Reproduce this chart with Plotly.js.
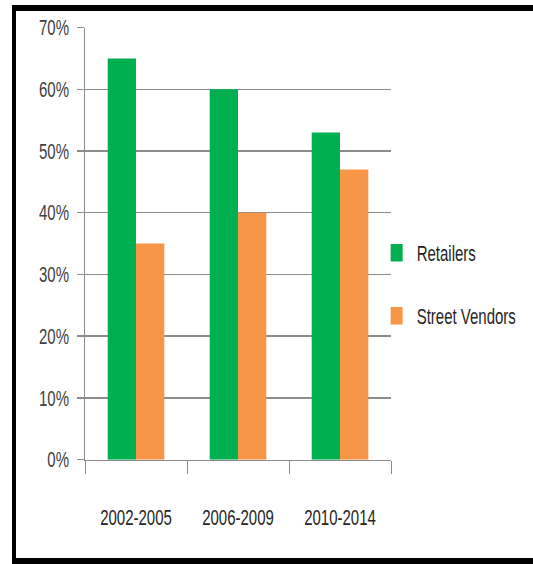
<!DOCTYPE html>
<html>
<head>
<meta charset="utf-8">
<script src="https://cdn.plot.ly/plotly-3.0.1.min.js"></script>
<style>
html,body{margin:0;padding:0;width:533px;height:564px;overflow:hidden;background:#fff;}
#frame{position:absolute;left:12px;top:5px;width:540px;height:547px;border-top:6px solid #000;border-left:4px solid #000;border-bottom:6px solid #000;box-sizing:content-box;pointer-events:none;}
#chart{position:absolute;left:0;top:0;width:533px;height:389px;transform-origin:0 0;transform:scaleY(1.45);}
</style>
</head>
<body>
<div id="chart"></div>
<div id="frame"></div>
<script>
const categories = ["2002-2005", "2006-2009", "2010-2014"];
const retailers = [65, 60, 53];
const streetVendors = [35, 40, 47];
const seriesNames = ["Retailers", "Street Vendors"];
const yTickVals = [0, 10, 20, 30, 40, 50, 60, 70];
const yTickText = ["0%", "10%", "20%", "30%", "40%", "50%", "60%", "70%"];

const fontFam = "'Liberation Sans', Arial, sans-serif";

const traces = [
  {type: "bar", name: seriesNames[0], x: categories, y: retailers,
   marker: {color: "#00B050"}, legendgroup: "a", hoverinfo: "none"},
  {type: "bar", name: seriesNames[1], x: categories, y: streetVendors,
   marker: {color: "#F79646"}, legendgroup: "b", hoverinfo: "none"}
];

const layout = {
  width: 533, height: 389,
  margin: {l: 85, r: 141, t: 19, b: 72, pad: 0},
  paper_bgcolor: "rgba(0,0,0,0)", plot_bgcolor: "rgba(0,0,0,0)",
  barmode: "group", bargap: 0.445, bargroupgap: 0,
  font: {family: fontFam, size: 15, color: "#262626"},
  xaxis: {
    type: "category", showgrid: false, showline: true, linecolor: "#8c8c8c", linewidth: 1,
    ticks: "outside", tickson: "boundaries", ticklen: 9, tickcolor: "#8c8c8c",
    tickangle: 0, ticklabelstandoff: 26,
    tickfont: {family: fontFam, size: 15, color: "#262626"},
    zeroline: false, automargin: false
  },
  yaxis: {
    range: [0, 70], tickvals: yTickVals, ticktext: yTickText,
    showgrid: true, gridcolor: "#8c8c8c", gridwidth: 1,
    showline: true, linecolor: "#8c8c8c", linewidth: 1,
    ticks: "outside", ticklen: 7, tickcolor: "#8c8c8c",
    ticklabelstandoff: 5,
    tickfont: {family: fontFam, size: 15, color: "#404040"},
    zeroline: false, fixedrange: true, automargin: false
  },
  showlegend: true,
  legend: {
    x: 0.95, xanchor: "left", y: 0.406, yanchor: "middle",
    traceorder: "grouped", tracegroupgap: 21,
    font: {family: fontFam, size: 15, color: "#262626"},
    itemwidth: 30, bgcolor: "rgba(0,0,0,0)"
  }
};

Plotly.newPlot("chart", traces, layout, {displayModeBar: false, staticPlot: true});
</script>
</body>
</html>
